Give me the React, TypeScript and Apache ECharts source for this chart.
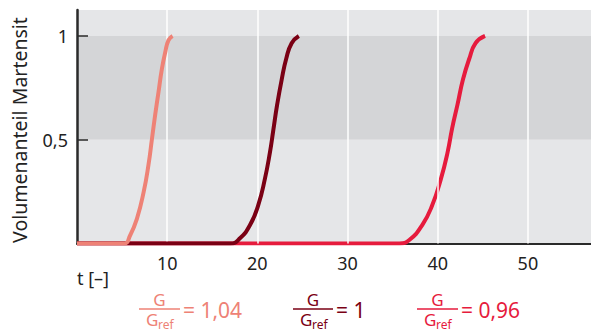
import React, { useEffect, useRef } from "react";
import * as echarts from "echarts";

// Curve 1: G/Gref = 1,04
const c1T = [0, 5.2, 5.9, 6.65, 7.4, 7.93, 8.3, 8.67, 9.04, 9.41, 9.78, 10.15, 10.6];
const c1V = [0, 0, 0.04, 0.12, 0.25, 0.38, 0.5, 0.62, 0.73, 0.84, 0.92, 0.98, 1.0];
// Curve 2: G/Gref = 1
const c2T = [0, 17.0, 18.07, 19.2, 20.1, 20.83, 21.4, 21.75, 22.2, 22.7, 23.2, 23.8, 24.6];
const c2V = [0, 0, 0.025, 0.09, 0.185, 0.31, 0.44, 0.54, 0.67, 0.79, 0.89, 0.965, 1.0];
// Curve 3: G/Gref = 0,96
const c3T = [0, 35.75, 36.85, 38.3, 39.4, 40.35, 41.1, 41.6, 42.2, 42.8, 43.5, 44.2, 45.25];
const c3V = [0, 0, 0.017, 0.09, 0.185, 0.31, 0.44, 0.555, 0.67, 0.79, 0.89, 0.965, 1.0];

const xTicks = [10, 20, 30, 40, 50];
const yTicks = [0.5, 1];
const bands = [
  [0, 0.5],
  [0.5, 1],
  [1, 1.125],
];
const ratioLabels = ["1,04", "1", "0,96"];
const colors = ["#ee8276", "#7a0014", "#e61b3d"];
const bandColors = ["#e5e6e8", "#d4d5d7", "#e5e6e8"];

const FONT = "Noto Sans";

function zip(t: number[], v: number[]) {
  return t.map((x, i) => [x, v[i]]);
}

function legendGroup(cx0: number, cx1: number, label: string, color: string, y: number) {
  const cx = (cx0 + cx1) / 2;
  return [
    {
      type: "text",
      x: cx,
      y: y - 10,
      style: { text: "G", fill: color, font: `17px '${FONT}'`, textAlign: "center", textVerticalAlign: "middle" },
    },
    {
      type: "line",
      shape: { x1: cx0, y1: y, x2: cx1, y2: y },
      style: { stroke: color, lineWidth: 1.6 },
    },
    {
      type: "text",
      x: cx0 + 7,
      y: y + 10.5,
      style: { text: "G", fill: color, font: `17px '${FONT}'`, textAlign: "left", textVerticalAlign: "middle" },
    },
    {
      type: "text",
      x: cx0 + 19,
      y: y + 15,
      style: { text: "ref", fill: color, font: `12px '${FONT}'`, textAlign: "left", textVerticalAlign: "middle" },
    },
    {
      type: "text",
      x: cx1 + 3,
      y: y + 1,
      style: { text: "= " + label, fill: color, font: `21px '${FONT}'`, textAlign: "left", textVerticalAlign: "middle" },
    },
  ];
}

export default function App() {
  const ref = useRef<HTMLDivElement>(null);
  useEffect(() => {
    const chart = echarts.init(ref.current!, null, { renderer: "svg" });
    const curves = [zip(c1T, c1V), zip(c2T, c2V), zip(c3T, c3V)];
    const option: any = {
      animation: false,
      grid: { left: 77, right: 0, top: 10, bottom: 92.5, containLabel: false },
      xAxis: {
        type: "value",
        min: 0,
        max: 57,
        interval: 10,
        z: 3,
        axisLine: { show: true, onZero: false, lineStyle: { color: "#2a2a2a", width: 2 } },
        axisTick: { show: false },
        splitLine: { show: false },
        axisLabel: {
          customValues: xTicks,
          margin: 10,
          color: "#222",
          fontSize: 18,
          fontFamily: FONT,
        },
      },
      yAxis: {
        type: "value",
        min: 0,
        max: 1.125,
        interval: 0.5,
        z: 3,
        axisLine: { show: true, lineStyle: { color: "#2a2a2a", width: 2.5 } },
        axisTick: {
          show: true,
          inside: true,
          length: 11,
          customValues: yTicks,
          lineStyle: { color: "#2a2a2a", width: 1.5 },
        },
        splitLine: { show: false },
        axisLabel: {
          customValues: yTicks,
          margin: 9,
          color: "#222",
          fontSize: 18,
          fontFamily: FONT,
          formatter: (v: number) => String(v).replace(".", ","),
        },
      },
      series: [
        {
          type: "line",
          z: 1,
          data: [],
          silent: true,
          markArea: {
            silent: true,
            data: bands.map((b, i) => [
              { yAxis: b[0], itemStyle: { color: bandColors[i] } },
              { yAxis: b[1] },
            ]),
          },
        },
        {
          type: "line",
          z: 2,
          data: [],
          silent: true,
          markLine: {
            silent: true,
            symbol: ["none", "none"],
            label: { show: false },
            lineStyle: { color: "#ffffff", width: 1.5, type: "solid" },
            data: xTicks.map((x) => ({ xAxis: x })),
          },
        },
        ...[2, 1, 0].map((i) => ({
          type: "line",
          z: 4 + (2 - i),
          data: curves[i],
          showSymbol: false,
          smooth: 0.5,
          lineStyle: { color: colors[i], width: 4, cap: "butt", join: "round" },
        })),
      ],
      graphic: [
        {
          type: "text",
          x: 19,
          y: 130,
          rotation: Math.PI / 2,
          style: {
            text: "Volumenanteil Martensit",
            fill: "#222",
            font: `19.5px '${FONT}'`,
            textAlign: "center",
            textVerticalAlign: "middle",
          },
        },
        {
          type: "text",
          x: 77,
          y: 278,
          style: { text: "t [–]", fill: "#222", font: `18px '${FONT}'`, textAlign: "left", textVerticalAlign: "middle" },
        },
        ...legendGroup(139, 180, ratioLabels[0], colors[0], 309),
        ...legendGroup(293, 333, ratioLabels[1], colors[1], 309),
        ...legendGroup(417, 458, ratioLabels[2], colors[2], 309),
      ],
    };
    chart.setOption(option);
    return () => chart.dispose();
  }, []);
  return (
    <div
      ref={ref}
      style={{ position: "absolute", left: 0, top: 0, width: 591, height: 336 }}
    />
  );
}
